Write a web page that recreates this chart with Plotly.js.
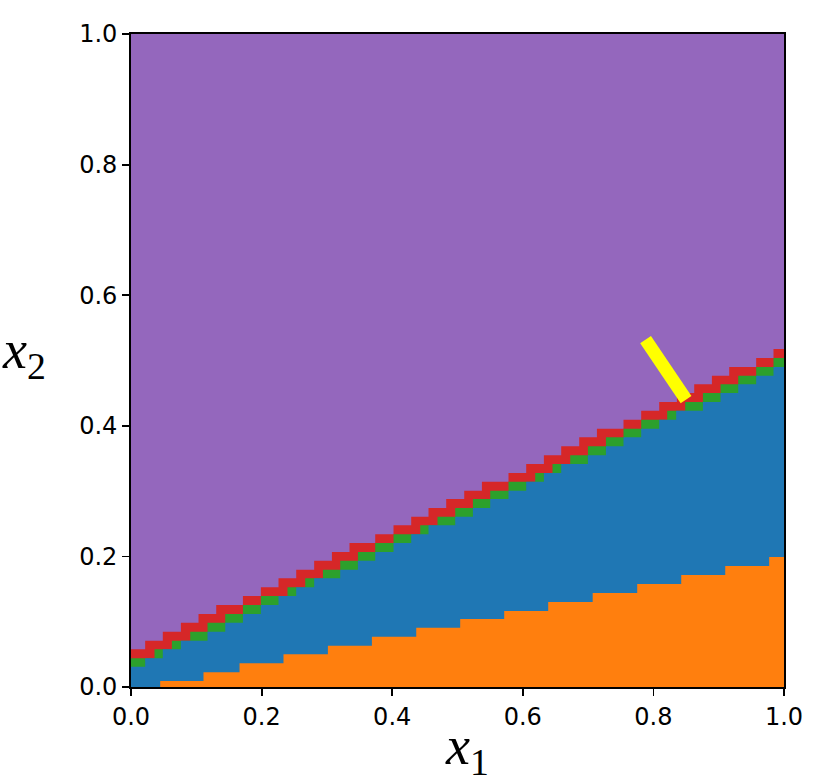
<!DOCTYPE html>
<html>
<head>
<meta charset="utf-8">
<script src="https://cdn.plot.ly/plotly-3.0.1.min.js"></script>
<style>
  html, body { margin: 0; padding: 0; background: #fff; }
  #plot { width: 830px; height: 782px; }
</style>
</head>
<body>
<div id="plot"></div>
<script>
// row edges of the class grid (y)
const rowEdges = [0.0311, 0.0440, 0.0577, 0.0709, 0.0847, 0.0985, 0.1118, 0.1256, 0.1394,
  0.1527, 0.1665, 0.1796, 0.1934, 0.2067, 0.2205, 0.2338, 0.2476, 0.2608, 0.2741, 0.2879,
  0.3006, 0.3144, 0.3277, 0.3415, 0.3548, 0.3686, 0.3824, 0.3956, 0.4093, 0.4231, 0.4364,
  0.4502, 0.4635, 0.4766, 0.4900, 0.5038, 0.5176];

// x where each boundary climbs one row
const redSteps = [0.0217, 0.0487, 0.0764, 0.1034, 0.1305, 0.1714, 0.1989, 0.2259, 0.2530,
  0.2805, 0.3077, 0.3346, 0.3740, 0.4020, 0.4291, 0.4556, 0.4827, 0.5103, 0.5374, 0.5781,
  0.6052, 0.6323, 0.6588, 0.6864, 0.7135, 0.7542, 0.7813, 0.8089, 0.8360, 0.8625, 0.8896,
  0.9161, 0.9574, 0.9839];
const greenSteps = [0.0360, 0.0626, 0.0907, 0.1172, 0.1443, 0.1714, 0.1989, 0.2397, 0.2668,
  0.2939, 0.3204, 0.3475, 0.3740, 0.4020, 0.4429, 0.4694, 0.4965, 0.5236, 0.5501, 0.5781,
  0.6190, 0.6455, 0.6726, 0.6997, 0.7273, 0.7542, 0.7813, 0.8211, 0.8487, 0.8758, 0.9028,
  0.9299, 0.9574, 0.9839];
const blueSteps = [0.0217, 0.0487, 0.0764, 0.1172, 0.1443, 0.1714, 0.1989, 0.2259, 0.2530,
  0.2805, 0.3204, 0.3475, 0.3740, 0.4020, 0.4291, 0.4556, 0.4965, 0.5236, 0.5501, 0.5781,
  0.6052, 0.6323, 0.6588, 0.6997, 0.7273, 0.7542, 0.7813, 0.8089, 0.8349, 0.8758, 0.9028,
  0.9299, 0.9574, 0.9839];

// bottom (orange) region
const orangeSteps = [0.0447, 0.1110, 0.1662, 0.2335, 0.3015, 0.3689, 0.4368, 0.5041, 0.5715,
  0.6389, 0.7070, 0.7752, 0.8426, 0.9100, 0.9773];
const orangeLevels = [0.0092, 0.0225, 0.0363, 0.0501, 0.0632, 0.0770, 0.0908, 0.1041, 0.1164,
  0.1302, 0.1440, 0.1577, 0.1715, 0.1853, 0.1991];

// yellow path
const pathX = [0.788, 0.850];
const pathY = [0.532, 0.440];

const colors = { purple: '#9467bd', red: '#d62728', green: '#2ca02c', blue: '#1f77b4', orange: '#ff7f0e' };

// filled staircase from y=0 up to the given levels
function stairs(steps, levels, color) {
  return {
    x: [0].concat(steps, [1]),
    y: levels.concat([levels[levels.length - 1]]),
    mode: 'lines', line: { shape: 'hv', width: 0, color: color },
    fill: 'tozeroy', fillcolor: color, hoverinfo: 'skip', showlegend: false
  };
}

const traces = [
  stairs(redSteps, rowEdges.slice(2, 37), colors.red),
  stairs(greenSteps, rowEdges.slice(1, 36), colors.green),
  stairs(blueSteps, rowEdges.slice(0, 35), colors.blue),
  stairs(orangeSteps, [0].concat(orangeLevels), colors.orange),
  {
    x: pathX, y: pathY, mode: 'lines',
    line: { color: '#ffff00', width: 13 }, hoverinfo: 'skip', showlegend: false
  }
];

const axis = {
  range: [0, 1], tickvals: [0, 0.2, 0.4, 0.6, 0.8, 1.0], tickformat: '.1f',
  showgrid: false, zeroline: false, showline: true, mirror: true,
  linecolor: '#000', linewidth: 1.8, ticks: 'outside', ticklen: 7, tickwidth: 1.8,
  tickcolor: '#000', tickfont: { family: 'DejaVu Sans', size: 24, color: '#000' }
};

const layout = {
  width: 830, height: 782,
  margin: { l: 131, r: 46, t: 34, b: 95 },
  paper_bgcolor: '#fff', plot_bgcolor: colors.purple,
  xaxis: Object.assign({}, axis),
  yaxis: Object.assign({}, axis),
  showlegend: false,
  annotations: [
    { text: '<i>x</i><sub>1</sub>', xref: 'paper', yref: 'paper', x: 0.5145, y: -0.095,
      xanchor: 'center', yanchor: 'middle', showarrow: false,
      font: { family: 'Liberation Serif', size: 54, color: '#000' } },
    { text: '<i>x</i><sub>2</sub>', xref: 'paper', yref: 'paper', x: -0.2, y: 0.51,
      xanchor: 'left', yanchor: 'middle', showarrow: false,
      font: { family: 'Liberation Serif', size: 54, color: '#000' } }
  ]
};

Plotly.newPlot('plot', traces, layout, { staticPlot: true, displayModeBar: false });
</script>
</body>
</html>
